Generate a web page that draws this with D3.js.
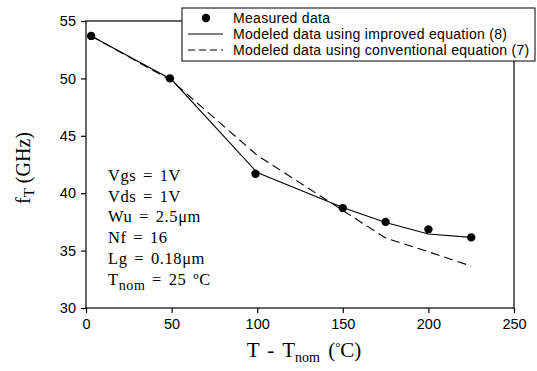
<!DOCTYPE html>
<html>
<head>
<meta charset="utf-8">
<script src="https://cdn.jsdelivr.net/npm/d3@7/dist/d3.min.js"></script>
<style>
  body { margin: 0; background: #fff; }
  svg { display: block; }
</style>
</head>
<body>
<div id="chart"></div>
<script>
// measured fT vs T - Tnom
var measX = [3, 49, 99, 150, 175, 200, 225];
var measY = [53.7, 50.0, 41.7, 38.7, 37.5, 36.85, 36.15];
// improved equation (8)
var impX = [3, 50, 100, 150, 175, 200, 225];
var impY = [53.7, 49.9, 41.8, 38.75, 37.45, 36.45, 36.15];
// conventional equation (7)
var convX = [3, 50, 100, 150, 175, 200, 225];
var convY = [53.7, 49.8, 43.3, 38.5, 36.1, 34.9, 33.65];

var xTicks = [0, 50, 100, 150, 200, 250];
var yTicks = [30, 35, 40, 45, 50, 55];
var notes = ["Vgs = 1V", "Vds = 1V", "Wu = 2.5\u03bcm", "Nf = 16", "Lg = 0.18\u03bcm"];
var legendLabels = ["Measured data",
  "Modeled data using improved equation (8)",
  "Modeled data using conventional equation (7)"];

var W = 537, H = 371;
var svg = d3.select("#chart").append("svg").attr("width", W).attr("height", H);

var x = d3.scaleLinear().domain([0, 250]).range([86, 514]);
var y = d3.scaleLinear().domain([30, 55]).range([308, 21]);

var sans = "Liberation Sans, Arial, sans-serif";
var serif = "Liberation Serif, Times New Roman, serif";

// frame
svg.append("rect")
  .attr("x", x(0)).attr("y", y(55))
  .attr("width", x(250) - x(0)).attr("height", y(30) - y(55))
  .attr("fill", "none").attr("stroke", "#000").attr("stroke-width", 1.2);

var xAxis = svg.append("g").attr("transform", "translate(0," + y(30) + ")")
  .call(d3.axisBottom(x).tickValues(xTicks).tickSize(5).tickPadding(6));
var yAxis = svg.append("g").attr("transform", "translate(" + x(0) + ",0)")
  .call(d3.axisLeft(y).tickValues(yTicks).tickSize(5).tickPadding(5));
[xAxis, yAxis].forEach(function(a) {
  a.select(".domain").remove();
  a.selectAll("line").attr("stroke", "#000").attr("stroke-width", 1.2);
  a.selectAll("text").attr("fill", "#000").style("font-family", sans).style("font-size", "14.5px");
});

// lines
function mkLine(xs, ys) {
  return d3.line().x(function(d) { return x(xs[d]); }).y(function(d) { return y(ys[d]); })(d3.range(xs.length));
}
svg.append("path").attr("d", mkLine(impX, impY))
  .attr("fill", "none").attr("stroke", "#000").attr("stroke-width", 1.1);
svg.append("path").attr("d", mkLine(convX, convY))
  .attr("fill", "none").attr("stroke", "#000").attr("stroke-width", 1.1)
  .attr("stroke-dasharray", "9,5");

svg.selectAll("circle.meas").data(d3.range(measX.length)).enter()
  .append("circle").attr("class", "meas")
  .attr("cx", function(i) { return x(measX[i]); })
  .attr("cy", function(i) { return y(measY[i]); })
  .attr("r", 4.2).attr("fill", "#000");

// notes
var nt = svg.append("g").style("font-family", serif).style("font-size", "16.5px")
  .style("letter-spacing", "0.6px").style("word-spacing", "2px").attr("fill", "#000");
notes.forEach(function(s, i) {
  nt.append("text").attr("x", 108).attr("y", 181 + i * 20.7).text(s);
});
var tn = nt.append("text").attr("x", 108).attr("y", 181 + 5 * 20.7);
tn.append("tspan").text("T");
tn.append("tspan").attr("dy", 5).style("font-size", "14px").text("nom");
tn.append("tspan").attr("dy", -5).text(" = 25 ");
tn.append("tspan").attr("dy", -6).style("font-size", "11px").text("o");
tn.append("tspan").attr("dy", 6).text("C");

// legend
var lg = svg.append("g");
lg.append("rect").attr("x", 182).attr("y", 8).attr("width", 353).attr("height", 53)
  .attr("fill", "#fff").attr("stroke", "#000").attr("stroke-width", 1);
lg.append("circle").attr("cx", 206).attr("cy", 18).attr("r", 4.2).attr("fill", "#000");
lg.append("line").attr("x1", 188).attr("x2", 223).attr("y1", 34).attr("y2", 34)
  .attr("stroke", "#000").attr("stroke-width", 1.1);
lg.append("line").attr("x1", 188).attr("x2", 223).attr("y1", 50).attr("y2", 50)
  .attr("stroke", "#000").attr("stroke-width", 1.1).attr("stroke-dasharray", "7,4");
legendLabels.forEach(function(s, i) {
  lg.append("text").attr("x", 233).attr("y", 23 + i * 16).text(s)
    .style("font-family", sans).style("font-size", "14px").style("letter-spacing", "0.3px")
    .attr("fill", "#000");
});

// axis titles
var xt = svg.append("text").attr("x", 304).attr("y", 357).attr("text-anchor", "middle")
  .style("font-family", serif).style("font-size", "21px").style("word-spacing", "3px")
  .attr("fill", "#000");
xt.append("tspan").text("T - T");
xt.append("tspan").attr("dy", 5).style("font-size", "14px").text("nom");
xt.append("tspan").attr("dy", -5).text(" (");
xt.append("tspan").attr("dy", -6).style("font-size", "13px").text("\u00b0");
xt.append("tspan").attr("dy", 6).text("C)");

var yt = svg.append("text").attr("transform", "translate(30,168) rotate(-90)").attr("text-anchor", "middle")
  .style("font-family", serif).style("font-size", "20px").attr("fill", "#000");
yt.append("tspan").text("f");
yt.append("tspan").attr("dy", 4).style("font-size", "15px").text("T");
yt.append("tspan").attr("dy", -4).text(" (GHz)");
</script>
</body>
</html>
